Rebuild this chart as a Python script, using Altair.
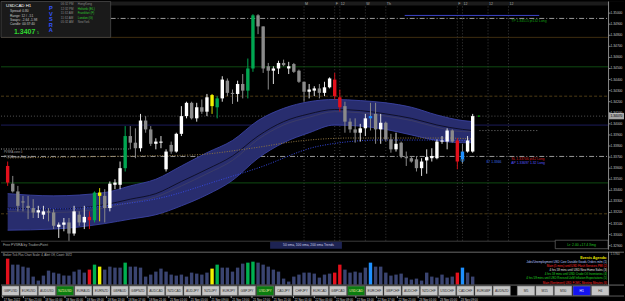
import altair as alt
import pandas as pd

FONT = "Liberation Sans"

# ---------------- data ----------------
open_ = [1.3362, 1.3346, 1.3339, 1.3330, 1.3326, 1.3324, 1.3320, 1.3318, 1.3321, 1.3320,
         1.3307, 1.3309, 1.3311, 1.3301, 1.3318, 1.3311, 1.3316, 1.3313, 1.3335, 1.3335,
         1.3324, 1.3345, 1.3345, 1.3360, 1.3389, 1.3383, 1.3378, 1.3403, 1.3395, 1.3382,
         1.3383, 1.3359, 1.3381, 1.3375, 1.3391, 1.3407, 1.3419, 1.3405, 1.3415, 1.3411,
         1.3416, 1.3415, 1.3423, 1.3439, 1.3428, 1.3427, 1.3436, 1.3430, 1.3450, 1.3498,
         1.3488, 1.3452, 1.3448, 1.3450, 1.3455, 1.3450, 1.3454, 1.3448, 1.3438, 1.3429,
         1.3430, 1.3432, 1.3428, 1.3433, 1.3440, 1.3424, 1.3416, 1.3402, 1.3395, 1.3392,
         1.3396, 1.3405, 1.3409, 1.3395, 1.3401, 1.3386, 1.3377, 1.3383, 1.3370, 1.3369,
         1.3368, 1.3360, 1.3367, 1.3369, 1.3369, 1.3384, 1.3384, 1.3394, 1.3385, 1.3368,
         1.3375, 1.3375]
high = [1.3366, 1.3353, 1.3344, 1.3335, 1.3335, 1.3332, 1.3326, 1.3326, 1.3324, 1.3323,
        1.3311, 1.3315, 1.3315, 1.3326, 1.3321, 1.3326, 1.3321, 1.3339, 1.3342, 1.3341,
        1.3348, 1.3350, 1.3366, 1.3398, 1.3398, 1.3396, 1.3409, 1.3407, 1.3398, 1.3387,
        1.3389, 1.3377, 1.3384, 1.3392, 1.3416, 1.3420, 1.3420, 1.3419, 1.3422, 1.3427,
        1.3427, 1.3425, 1.3443, 1.3441, 1.3431, 1.3439, 1.3445, 1.3459, 1.3499, 1.3499,
        1.3488, 1.3455, 1.3452, 1.3457, 1.3458, 1.3456, 1.3455, 1.3449, 1.3438, 1.3436,
        1.3434, 1.3436, 1.3438, 1.3442, 1.3446, 1.3431, 1.3420, 1.3405, 1.3405, 1.3400,
        1.3409, 1.3419, 1.3419, 1.3409, 1.3402, 1.3391, 1.3392, 1.3384, 1.3375, 1.3371,
        1.3371, 1.3369, 1.3377, 1.3378, 1.3386, 1.3389, 1.3396, 1.3395, 1.3387, 1.3382,
        1.3389, 1.3409]
low = [1.3344, 1.3338, 1.3321, 1.3321, 1.3314, 1.3315, 1.3315, 1.3314, 1.3312, 1.3305,
       1.3297, 1.3303, 1.3294, 1.3299, 1.3308, 1.3305, 1.3305, 1.3311, 1.3312, 1.3311,
       1.3321, 1.3341, 1.3341, 1.3357, 1.3377, 1.3369, 1.3375, 1.3392, 1.3380, 1.3377,
       1.3378, 1.3357, 1.3373, 1.3374, 1.3389, 1.3405, 1.3404, 1.3402, 1.3409, 1.3407,
       1.3409, 1.3405, 1.3420, 1.3425, 1.3418, 1.3420, 1.3423, 1.3423, 1.3447, 1.3481,
       1.3446, 1.3431, 1.3436, 1.3445, 1.3452, 1.3445, 1.3446, 1.3437, 1.3420, 1.3423,
       1.3425, 1.3423, 1.3425, 1.3432, 1.3422, 1.3411, 1.3392, 1.3392, 1.3383, 1.3384,
       1.3389, 1.3394, 1.3382, 1.3382, 1.3384, 1.3374, 1.3375, 1.3369, 1.3362, 1.3365,
       1.3357, 1.3353, 1.3355, 1.3366, 1.3368, 1.3382, 1.3377, 1.3383, 1.3359, 1.3364,
       1.3374, 1.3374]
close = [1.3347, 1.3339, 1.3326, 1.3329, 1.3324, 1.3320, 1.3322, 1.3321, 1.3320, 1.3308,
         1.3309, 1.3311, 1.3301, 1.3321, 1.3311, 1.3316, 1.3313, 1.3338, 1.3338, 1.3324,
         1.3346, 1.3347, 1.3360, 1.3389, 1.3383, 1.3378, 1.3403, 1.3395, 1.3382, 1.3384,
         1.3384, 1.3375, 1.3375, 1.3391, 1.3407, 1.3419, 1.3405, 1.3415, 1.3411, 1.3424,
         1.3426, 1.3423, 1.3440, 1.3428, 1.3427, 1.3436, 1.3430, 1.3450, 1.3498, 1.3488,
         1.3450, 1.3448, 1.3450, 1.3455, 1.3453, 1.3452, 1.3447, 1.3438, 1.3429, 1.3431,
         1.3432, 1.3428, 1.3433, 1.3441, 1.3425, 1.3415, 1.3402, 1.3395, 1.3392, 1.3396,
         1.3405, 1.3407, 1.3395, 1.3401, 1.3386, 1.3377, 1.3382, 1.3371, 1.3369, 1.3366,
         1.3360, 1.3366, 1.3370, 1.3371, 1.3384, 1.3385, 1.3394, 1.3384, 1.3366, 1.3375,
         1.3385, 1.3407]
kind = ["r", "d", "d", "d", "d", "d", "u", "u", "d", "d",
        "u", "u", "d", "u", "d", "u", "r", "g", "y", "d",
        "u", "u", "u", "g", "d", "d", "u", "d", "d", "u",
        "u", "u", "d", "u", "u", "u", "d", "u", "d", "u",
        "y", "g", "u", "d", "d", "u", "d", "g", "g", "d",
        "d", "d", "u", "u", "d", "u", "d", "d", "d", "u",
        "u", "d", "u", "u", "r", "r", "d", "d", "d", "u",
        "u", "b", "d", "u", "d", "d", "u", "d", "d", "d",
        "d", "u", "u", "u", "u", "u", "u", "d", "r", "b",
        "u", "u"]
volume = [26, 20, 20, 18, 17, 8, 4, 9, 14, 12,
          11, 9, 9, 13, 15, 12, 15, 20, 18, 15,
          18, 17, 17, 22, 18, 18, 17, 8, 10, 13,
          16, 13, 10, 9, 10, 8, 12, 11, 10, 12,
          16, 20, 17, 17, 13, 17, 21, 22, 23, 22,
          20, 18, 15, 13, 6, 3, 8, 10, 12, 12,
          11, 7, 10, 11, 12, 20, 15, 12, 13, 12,
          17, 22, 18, 18, 12, 9, 10, 11, 7, 5,
          6, 4, 12, 8, 7, 10, 7, 8, 12, 17,
          12, 8]

band_idx = [1, 10, 20, 25, 30, 35, 40, 45, 50, 55, 60, 65, 70, 75, 80, 85, 90, 92]
band_upper = [1.3337, 1.3335, 1.3338, 1.3344, 1.3350, 1.3362, 1.3374, 1.3385, 1.3403, 1.3414,
              1.3420, 1.3422, 1.3421, 1.3419, 1.3415, 1.3408, 1.3403, 1.3402]
band_lower = [1.3304, 1.3305, 1.3310, 1.3314, 1.3318, 1.3326, 1.3336, 1.3349, 1.3369, 1.3383,
              1.3392, 1.3399, 1.3398, 1.3395, 1.3390, 1.3385, 1.3383, 1.3383]
ma_fast = [1.3324, 1.3323, 1.3327, 1.3332, 1.3337, 1.3348, 1.3359, 1.3371, 1.3389, 1.3402,
           1.3409, 1.3413, 1.3412, 1.3409, 1.3405, 1.3399, 1.3395, 1.3394]
ma_slow = [1.3321, 1.3320, 1.3324, 1.3329, 1.3334, 1.3344, 1.3355, 1.3367, 1.3386, 1.3399,
           1.3406, 1.3411, 1.3410, 1.3407, 1.3403, 1.3397, 1.3393, 1.3393]

blue_idx = [1, 12, 20, 31, 42, 50, 62, 74, 85, 92]
blue_val = [1.33233, 1.33233, 1.33260, 1.33332, 1.33485, 1.33602, 1.33800, 1.33854, 1.33854, 1.33845]
tan_idx = [1, 26, 37, 49, 58, 68, 87, 92]
tan_val = [1.33692, 1.33710, 1.33719, 1.33782, 1.33845, 1.33872, 1.33872, 1.33863]

level_price = [1.34952, 1.34781, 1.34515, 1.34250, 1.33989, 1.33706, 1.33467, 1.33188]
level_style = ["dashdot", "brown", "green", "browndash", "navy", "dashdot", "green", "browndash"]

vline_idx = [59, 65, 66, 71, 75, 89, 90, 95, 99]
vline_lbl = ["M", "F", "12", "W", "Th", "F", "12", "12", "12"]

price_ticks = [1.3290, 1.3300, 1.3310, 1.3320, 1.3330, 1.3340, 1.3350, 1.3360, 1.3370,
               1.3380, 1.3390, 1.3400, 1.3410, 1.3420, 1.3430, 1.3440, 1.3450, 1.3460,
               1.3470, 1.3480, 1.3490, 1.3500]
last_price = [1.3407]

time_idx = [1, 5, 9, 13, 17, 21, 25, 29, 33, 37, 41, 45, 49, 53, 57, 61, 65, 69, 73, 77, 81, 85, 89]
time_lbl = ["17 Nov 2022", "17 Nov 21:00", "18 Nov 01:00", "18 Nov 05:00", "18 Nov 09:00",
            "18 Nov 13:00", "18 Nov 17:00", "18 Nov 21:00", "21 Nov 01:00", "21 Nov 05:00",
            "21 Nov 09:00", "21 Nov 13:00", "21 Nov 17:00", "21 Nov 21:00", "22 Nov 01:00",
            "22 Nov 05:00", "22 Nov 09:00", "22 Nov 13:00", "22 Nov 17:00", "22 Nov 21:00",
            "23 Nov 01:00", "23 Nov 05:00", "23 Nov 09:00"]

pairs = ["GBPUSD", "EURUSD", "AUDUSD", "NZDUSD", "EURAUD", "EURNZD", "GBPAUD", "GBPNZD",
         "AUDCAD", "NZDCAD", "AUDJPY", "NZDJPY", "EURJPY", "GBPJPY", "USDJPY", "CADJPY",
         "CHFJPY", "EURCAD", "GBPCAD", "USDCAD", "EURCHF", "GBPCHF", "AUDCHF", "NZDCHF",
         "USDCHF", "CADCHF", "EURGBP", "AUDNZD"]
pairs_on = ["NZDUSD", "USDJPY", "USDCAD"]
frames = ["M5", "M15", "M30", "H1", "H4"]
frame_on = "H1"

events = ["Events Agenda:",
          "Jobs/Unemployment USD Core Durable Goods Orders m/m  (1)",
          "Main (5 mins) until USD Flash Services PMI  (2)",
          "4 hrs 59 mins until USD New Home Sales  (3)",
          "4 hrs 59 mins until USD Crude Oil Inventories  (4)",
          "4 hrs 59 mins until USD Revised UoM Inflation Expectations  (5)",
          "Main (Sentiment) USD FOMC Meeting Minutes  (6)"]
event_colors = ["#e6e600", "#b8c8ff", "#ff2a2a", "#e0e0e0", "#22dd22", "#22dd22", "#ff2a2a"]

# ---------------- scales ----------------
xs = alt.Scale(domain=[0.674, 120.635], nice=False, zero=False)
ys = alt.Scale(domain=[1.32864, 1.35105], nice=False, zero=False)
kind_scale = alt.Scale(domain=["u", "d", "r", "g", "y", "b"],
                       range=["#ffffff", "#8a8a8a", "#e3101c", "#00a651", "#f2f200", "#1e90ff"])
wick_scale = alt.Scale(domain=["u", "d", "r", "g", "y", "b"],
                       range=["#e0e0e0", "#8a8a8a", "#d01018", "#00a651", "#d8d800", "#8a8a8a"])
vol_scale = alt.Scale(domain=["u", "d", "r", "g", "y", "b"],
                      range=["#3a4470", "#3a4470", "#e3101c", "#00b050", "#f2f200", "#1e90ff"])

X = lambda f: alt.X(f, scale=xs, axis=None)
Y = lambda f: alt.Y(f, scale=ys, axis=None)

one = [{"z": 0}]


def label(txt, x, y, color="#c0c0c0", size=3.4, align="left", weight="normal"):
    return alt.Chart(alt.Data(values=one)).mark_text(
        text=txt, align=align, baseline="middle", color=color, fontSize=size,
        fontWeight=weight, font=FONT, clip=True
    ).encode(x=alt.value(x), y=alt.value(y))


def box(x, y, x2, y2, fill, stroke="", sw=0.6):
    if stroke:
        m = alt.Chart(alt.Data(values=one)).mark_rect(fill=fill, stroke=stroke, strokeWidth=sw)
    else:
        m = alt.Chart(alt.Data(values=one)).mark_rect(fill=fill)
    return m.encode(x=alt.value(x), x2=alt.value(x2), y=alt.value(y), y2=alt.value(y2))


def hline(y, x, x2, color, dash=None, sw=1):
    kw = dict(color=color, strokeWidth=sw)
    if dash:
        kw["strokeDash"] = dash
    return alt.Chart(alt.Data(values=one)).mark_rule(**kw).encode(
        x=alt.value(x), x2=alt.value(x2), y=alt.value(y))


def vline(x, y, y2, color, sw=1):
    return alt.Chart(alt.Data(values=one)).mark_rule(color=color, strokeWidth=sw).encode(
        x=alt.value(x), y=alt.value(y), y2=alt.value(y2))


def buttons(df, scale, on_fill, on_text, off_fill="#c6c6c6", off_text="#303030"):
    out = []
    for state, fill, tcol in [("off", off_fill, off_text), ("on", on_fill, on_text)]:
        base = alt.Chart(df).transform_filter(alt.datum.on == state)
        out.append(base.transform_calculate(k1="datum.k + 0.94").mark_rect(
            fill=fill, stroke="#8a8a8a", strokeWidth=0.5).encode(
            x=alt.X("k:Q", scale=scale, axis=None), x2="k1:Q",
            y=alt.value(34.5), y2=alt.value(44)))
        out.append(base.transform_calculate(kc="datum.k + 0.47").mark_text(
            fontSize=3.3, font=FONT, baseline="middle", align="center", color=tcol).encode(
            x=alt.X("kc:Q", scale=scale, axis=None), y=alt.value(39.3), text="name:N"))
    return out


# ---------------- main panel ----------------
cdf = pd.DataFrame({"i": list(range(1, 93)), "o": open_, "h": high, "l": low,
                    "c": close, "k": kind, "v": volume})
bdf = pd.DataFrame({"i": band_idx, "u": band_upper, "lo": band_lower, "m1": ma_fast, "m2": ma_slow})
ldf = pd.DataFrame({"p": level_price, "s": level_style})

layers = []
layers.append(box(0, 0, 625, 4, "#1b1b1b"))

level_styles = {
    "dashdot": dict(color="#9a9a9a", strokeDash=[5, 2, 1, 2]),
    "brown": dict(color="#3e2d10"),
    "green": dict(color="#0f4a12"),
    "browndash": dict(color="#4d3c16", strokeDash=[3, 2]),
    "navy": dict(color="#1c1c5a"),
}
for s, kw in level_styles.items():
    layers.append(alt.Chart(ldf).transform_filter(alt.datum.s == s).mark_rule(strokeWidth=1, **kw).encode(
        y=Y("p:Q"), x=alt.value(0), x2=alt.value(609)))

layers.append(alt.Chart(pd.DataFrame({"p": last_price})).mark_rule(
    color="#555555", strokeDash=[1, 2]).encode(y=Y("p:Q"), x=alt.value(0), x2=alt.value(609)))

vdf = pd.DataFrame({"i": vline_idx, "t": vline_lbl})
layers.append(alt.Chart(vdf).mark_rule(color="#3c3c3c", strokeDash=[1, 2]).encode(
    x=X("i:Q"), y=alt.value(5), y2=alt.value(240)))
layers.append(alt.Chart(vdf).mark_text(fontSize=3.6, color="#a8a8a8", align="left", dx=1,
                                       baseline="middle", font=FONT).encode(
    x=X("i:Q"), y=alt.value(2.5), text="t:N"))

layers.append(hline(14, 405, 540, "#3c44c8"))
layers.append(hline(129.5, 480, 538, "#777777", dash=[1, 2]))

# band
layers.append(alt.Chart(bdf).mark_area(color="#282d6e", interpolate="monotone", opacity=1).encode(
    x=X("i:Q"), y=Y("u:Q"), y2="lo:Q"))
for f, col in [("u", "#3a42a2"), ("lo", "#3a42a2"), ("m1", "#0c0c22"), ("m2", "#3e3e66")]:
    layers.append(alt.Chart(bdf).mark_line(color=col, strokeWidth=0.9, interpolate="monotone").encode(
        x=X("i:Q"), y=Y(f + ":Q")))

layers.append(alt.Chart(pd.DataFrame({"i": blue_idx, "p": blue_val})).mark_line(
    color="#3548e0", strokeDash=[1, 1.5], strokeWidth=1, interpolate="monotone").encode(
    x=X("i:Q"), y=Y("p:Q")))
layers.append(alt.Chart(pd.DataFrame({"i": tan_idx, "p": tan_val})).mark_line(
    color="#8f7540", strokeDash=[1, 1.5], strokeWidth=1, interpolate="monotone").encode(
    x=X("i:Q"), y=Y("p:Q")))
layers.append(hline(148, 0, 130, "#9a9a9a", dash=[1, 1.5]))
layers.append(label("PVSRA zone  0", 3, 151.5, "#a0a0a0", 2.8))
layers.append(label("PVSRA zone  Buy Limit", 3, 156, "#a0a0a0", 2.8))

# candles
layers.append(alt.Chart(cdf).mark_rule(strokeWidth=1).encode(
    x=X("i:Q"), y=Y("l:Q"), y2="h:Q",
    stroke=alt.Stroke("k:N", scale=wick_scale, legend=None)))
layers.append(alt.Chart(cdf).mark_bar(width=3.4).encode(
    x=X("i:Q"), y=Y("o:Q"), y2="c:Q",
    fill=alt.Fill("k:N", scale=kind_scale, legend=None)))

layers.append(alt.Chart(pd.DataFrame({"i": [90], "p": [1.33674]})).mark_point(
    shape="circle", size=10, color="#1e90ff", filled=False, strokeWidth=1).encode(
    x=X("i:Q"), y=Y("p:Q")))
layers.append(alt.Chart(pd.DataFrame({"i": [93.2], "p": [1.3407]})).mark_square(
    size=3, color="#00c000").encode(x=X("i:Q"), y=Y("p:Q")))

layers.append(label("TP   1.34515   pt132   Long", 512, 20, "#12a012", 3.4))
layers.append(label("SL   1.33706   pt42   Long", 512, 158, "#d42020", 3.4))
layers.append(label("AP   1.33697   1.32   Long", 512, 162, "#5a5aff", 3.4))
layers.append(label("87  1.3366", 487, 161, "#3a6ae0", 3.4))

# info box
layers.append(box(0, 0, 110, 36, "#1a1a1a", "#505050", 0.7))
layers.append(label("USDCAD    H1", 5, 4.5, "#ffffff", 4.4))
for t, yy in [("Spread: 0.80", 10), ("Range: 12 / ..51", 14.3), ("Swaps: -2.64  -1.98", 18.6),
              ("Candle: 00:37:40", 22.9)]:
    layers.append(label(t, 9, yy, "#c8c8c8", 3.3))
layers.append(label("1.3407", 13, 31, "#2fd82f", 7, weight="bold"))
layers.append(label("5", 36, 32, "#2fd82f", 3.6))
for ch, yy in zip("PVSRA", [7, 12.5, 18, 23.5, 29]):
    layers.append(label(ch, 50, yy, "#3455ff", 5.6, align="center", weight="bold"))
for t, n, col, yy in [("06:32 PM", "HongKong", "#8a8a8a", 3),
                      ("12:32 PM", "Helsinki (EL)", "#2ecc2e", 7.5),
                      ("11:32 AM", "Frankfurt (F)", "#2ecc2e", 12),
                      ("11:32 AM", "London (G)", "#2ecc2e", 16.5),
                      ("05:32 AM", "NewYork", "#8a8a8a", 21)]:
    layers.append(label(t, 60, yy, "#8a8a8a", 3))
    layers.append(label(n, 77, yy, col, 3))

layers.append(hline(240.5, 0, 609, "#3a3a3a"))
layers.append(label("Free PVSRA by TradersPoint", 2, 244.5, "#a8a8a8", 3.5))
layers.append(box(270, 241, 342, 248, "#1d2352"))
layers.append(label("50 ema, 100 ema, 200 ema Trends", 283, 244.5, "#d0d0e8", 3.3))
layers.append(box(556, 239.5, 609, 248, "#000000", "#6a6a6a", 0.7))
layers.append(label("Lr: 2.00  +17.4  Xmg", 568, 244, "#22c022", 3.4))

# price axis
layers.append(box(609.5, 0, 625, 249, "#000000"))
layers.append(vline(609.5, 0, 249, "#8a8a8a"))
pdf = pd.DataFrame({"p": price_ticks})
layers.append(alt.Chart(pdf).mark_rule(color="#8a8a8a").encode(
    y=Y("p:Q"), x=alt.value(609.5), x2=alt.value(611.5)))
layers.append(alt.Chart(pdf).mark_text(align="left", baseline="middle", fontSize=3.3,
                                       color="#c8c8c8", font=FONT, clip=True).encode(
    y=Y("p:Q"), x=alt.value(611.5), text=alt.Text("p:Q", format=".5f")))
lp = pd.DataFrame({"p": last_price})
layers.append(alt.Chart(lp).mark_tick(color="#e8e8e8", thickness=6.4, size=15, orient="horizontal").encode(
    y=Y("p:Q"), x=alt.value(617.5)))
layers.append(alt.Chart(lp).mark_text(align="left", baseline="middle", fontSize=3.3,
                                      color="#000000", font=FONT).encode(
    y=Y("p:Q"), x=alt.value(611.5), text=alt.Text("p:Q", format=".5f")))

main = alt.layer(*layers).properties(width=625, height=249)

# ---------------- bottom panel ----------------
blayers = []
blayers.append(hline(0.5, 0, 625, "#6a6a6a"))
blayers.append(label("Broker Tick Plus    Chart Scale: 4,  Alert Off,  Count: 3672", 2, 3.2, "#b0b0b0", 2.9))
blayers.append(alt.Chart(cdf).mark_bar(width=3.4).encode(
    x=X("i:Q"),
    y=alt.Y("v:Q", scale=alt.Scale(domain=[0, 33], range=[33, 0], nice=False), axis=None),
    fill=alt.Fill("k:N", scale=vol_scale, legend=None)))
for t, c, yy in zip(events, event_colors, [6, 10.3, 14.3, 18.3, 22.7, 26.7, 31]):
    blayers.append(label(t, 608, yy, c, 3.6 if t.startswith("Events") else 2.9, align="right",
                         weight="bold" if t.startswith("Events") else "normal"))

blayers.append(hline(33.5, 0, 625, "#6a6a6a"))
bt = pd.DataFrame({"name": pairs, "k": list(range(len(pairs)))})
bt["on"] = bt["name"].isin(pairs_on).map({True: "on", False: "off"})
bscale = alt.Scale(domain=[0, 28], range=[1, 512], nice=False, zero=False)
blayers += buttons(bt, bscale, "#0b7d10", "#e8e8a0")

ft = pd.DataFrame({"name": frames, "k": list(range(len(frames)))})
ft["on"] = (ft["name"] == frame_on).map({True: "on", False: "off"})
fscale = alt.Scale(domain=[0, 5], range=[518, 611], nice=False, zero=False)
blayers += buttons(ft, fscale, "#1414f0", "#ffffff")

blayers.append(hline(44.5, 0, 625, "#5a5a5a"))
tdf = pd.DataFrame({"i": time_idx, "t": time_lbl})
blayers.append(alt.Chart(tdf).mark_rule(color="#9a9a9a").encode(
    x=X("i:Q"), y=alt.value(44.5), y2=alt.value(46.5)))
blayers.append(alt.Chart(tdf).mark_text(align="left", baseline="middle", fontSize=2.9, dx=1,
                                        color="#d0d0d0", font=FONT, clip=True).encode(
    x=X("i:Q"), y=alt.value(48.5), text="t:N"))
blayers.append(vline(609.5, 0, 34, "#8a8a8a"))
blayers.append(label("1.5760", 611.5, 2.5, "#b0b0b0", 3))

bottom = alt.layer(*blayers).resolve_scale(
    x="independent", fill="independent"
).properties(width=625, height=52)

chart = alt.vconcat(main, bottom, spacing=0, padding=0, background="#000000").resolve_scale(
    fill="independent", stroke="independent"
).configure_view(strokeWidth=0)

chart.save("out.html", embed_options={"renderer": "svg", "actions": False})
